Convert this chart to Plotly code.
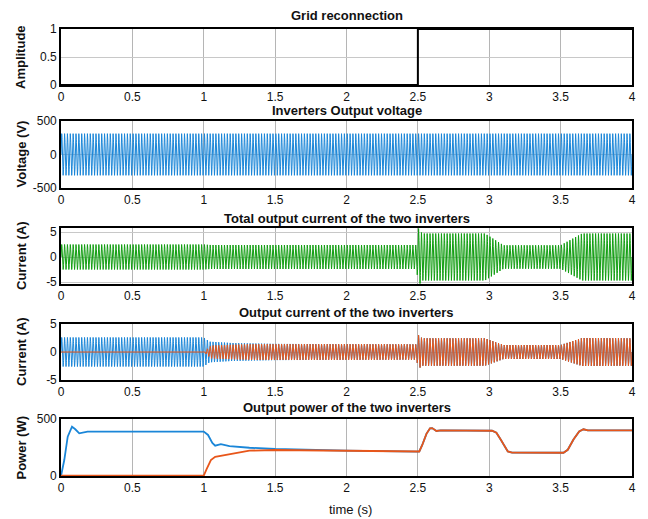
import numpy as np
import plotly.graph_objects as go

# ---------------------------------------------------------------- data
FREQ_HZ = 50.0          # grid frequency
T_END = 4.0             # simulation length (s)
SAMPLES_PER_CYCLE = 40

# Grid reconnection command (0 = islanded, 1 = connected)
grid_t = [0.0, 2.5, 2.5, 4.0]
grid_state = [0, 0, 1, 1]

# Inverter output voltage peak (V)
v_peak = 311.0

# Total output current envelope: knot times (s) and peak amplitude (A)
total_env_t = [0.0, 1.0, 1.05, 2.49, 2.505, 2.53, 2.97, 3.1, 3.5, 3.65, 4.0]
total_env_a = [2.5, 2.5, 2.4, 2.4, 5.7, 4.7, 4.7, 2.35, 2.35, 4.7, 4.7]

# Inverter 1 current envelope
inv1_env_t = [0.0, 1.0, 1.04, 1.2, 1.5, 2.0, 2.49, 2.505, 2.53, 2.97, 3.1, 3.5, 3.65, 4.0]
inv1_env_a = [2.6, 2.6, 1.85, 1.6, 1.45, 1.4, 1.37, 3.0, 2.45, 2.45, 1.25, 1.25, 2.5, 2.45]

# Inverter 2 current envelope
inv2_env_t = [0.0, 1.0, 1.05, 1.2, 1.35, 2.0, 2.49, 2.505, 2.53, 2.97, 3.1, 3.5, 3.65, 4.0]
inv2_env_a = [0.0, 0.0, 1.15, 1.3, 1.4, 1.4, 1.37, 3.0, 2.45, 2.45, 1.25, 1.25, 2.5, 2.45]

# Output power of inverter 1 (W)
p1_t = [0.0, 0.023, 0.047, 0.077, 0.1, 0.128, 0.186, 0.5, 1.0, 1.03, 1.06, 1.08,
        1.12, 1.18, 1.32, 1.5, 1.77, 2.0, 2.5, 2.51, 2.53, 2.56, 2.585, 2.6,
        2.63, 2.66, 3.02, 3.05, 3.08, 3.11, 3.13, 3.16, 3.52, 3.55, 3.59, 3.63,
        3.66, 3.69, 4.0]
p1_w = [0, 140, 345, 433, 410, 374, 389, 389, 389, 360, 290, 266,
        280, 262, 248, 237, 228, 222, 213, 215, 270, 370, 418, 420,
        395, 400, 397, 380, 320, 250, 215, 205, 204, 230, 320, 390,
        410, 400, 400]

# Output power of inverter 2 (W)
p2_t = [0.0, 1.0, 1.02, 1.05, 1.08, 1.11, 1.18, 1.32, 1.5, 2.0, 2.5, 2.51,
        2.53, 2.56, 2.585, 2.6, 2.63, 2.66, 3.02, 3.05, 3.08, 3.11, 3.13, 3.16,
        3.52, 3.55, 3.59, 3.63, 3.66, 3.69, 4.0]
p2_w = [3, 3, 60, 140, 168, 175, 193, 222, 228, 222, 213, 215,
        270, 370, 418, 420, 395, 400, 397, 380, 320, 250, 215, 205,
        204, 230, 320, 390, 410, 400, 400]

# ---------------------------------------------------------------- signals
t = np.arange(0.0, T_END + 1e-9, 1.0 / (FREQ_HZ * SAMPLES_PER_CYCLE))
carrier = np.sin(2 * np.pi * FREQ_HZ * t)
voltage = v_peak * carrier
i_total = np.interp(t, total_env_t, total_env_a) * carrier
i_inv1 = np.interp(t, inv1_env_t, inv1_env_a) * carrier
i_inv2 = np.interp(t, inv2_env_t, inv2_env_a) * carrier

# ---------------------------------------------------------------- styling
BLUE = "#1a86d8"
ORANGE = "#e8561a"
GREEN = "#129e12"
FONT = "Liberation Sans, Arial, sans-serif"
W, H = 648, 519

x_dom = [61 / W, 632 / W]
# (top px, bottom px) of each panel
rows_px = [(29, 85), (121, 188), (228, 284), (324, 380), (419, 476)]
y_doms = [[1 - b / H, 1 - a / H] for a, b in rows_px]

titles = ["Grid reconnection", "Inverters Output voltage",
          "Total output current of the two inverters",
          "Output current of the two inverters",
          "Output power of the two inverters"]
ylabels = ["Amplitude", "Voltage (V)", "Current (A)", "Current (A)", "Power (W)"]
y_ranges = [[0, 1], [-500, 500], [-5.4, 5.8], [-5, 5], [0, 500]]
y_ticks = [[0, 0.5, 1], [-500, 0, 500], [-5, 0, 5], [-5, 0, 5], [0, 500]]
title_y_px = [16, 111, 218, 312, 407]

x_ticks = [0, 0.5, 1, 1.5, 2, 2.5, 3, 3.5, 4]


def tick_text(v):
    # plain hyphen-minus, compact numbers
    return f"{v:g}"


fig = go.Figure()


def add(row, x, y, color, width):
    suffix = "" if row == 1 else str(row)
    fig.add_trace(go.Scatter(x=x, y=y, mode="lines",
                             line=dict(color=color, width=width),
                             xaxis="x" + suffix, yaxis="y" + suffix,
                             showlegend=False, hoverinfo="skip"))


add(1, grid_t, grid_state, "black", 2)
add(2, t, voltage, BLUE, 1)
add(3, t, i_total, GREEN, 1)
add(4, t, i_inv1, BLUE, 1)
add(4, t, i_inv2, ORANGE, 1)
add(5, p1_t, p1_w, BLUE, 1.8)
add(5, p2_t, p2_w, ORANGE, 1.8)

layout = dict(width=W, height=H, margin=dict(l=0, r=0, t=0, b=0),
              paper_bgcolor="white", plot_bgcolor="white",
              font=dict(family=FONT, size=12, color="#111"))

annotations = []
for i in range(5):
    suffix = "" if i == 0 else str(i + 1)
    layout["xaxis" + suffix] = dict(
        domain=x_dom, range=[0, 4], anchor="y" + suffix, automargin=False,
        tickvals=x_ticks, ticktext=[tick_text(v) for v in x_ticks],
        showgrid=True, gridcolor="#b5b5b5", gridwidth=1,
        showline=True, mirror=True, linecolor="black", linewidth=1.6,
        zeroline=False, ticks="", tickfont=dict(size=12, color="#111"))
    layout["yaxis" + suffix] = dict(
        domain=y_doms[i], range=y_ranges[i], anchor="x" + suffix, automargin=False,
        tickvals=y_ticks[i], ticktext=[tick_text(v) for v in y_ticks[i]],
        showgrid=True, gridcolor="#c8c8c8", gridwidth=1,
        showline=True, mirror=True, linecolor="black", linewidth=1.6,
        zeroline=False, ticks="", tickfont=dict(size=12, color="#111"))
    annotations.append(dict(
        text=titles[i], xref="paper", yref="paper",
        x=sum(x_dom) / 2, y=1 - title_y_px[i] / H, showarrow=False,
        xanchor="center", yanchor="middle",
        font=dict(family=FONT, size=13, color="#111", weight="bold")))
    annotations.append(dict(
        text=ylabels[i], xref="paper", yref="paper", textangle=-90,
        x=21 / W, y=sum(y_doms[i]) / 2, showarrow=False,
        xanchor="center", yanchor="middle",
        font=dict(family=FONT, size=13, color="#111", weight="bold")))

annotations.append(dict(
    text="time (s)", xref="paper", yref="paper", x=350 / W, y=1 - 509 / H,
    showarrow=False, xanchor="center", yanchor="middle",
    font=dict(family=FONT, size=13, color="#111")))

layout["annotations"] = annotations
fig.update_layout(**layout)
fig.write_html("out.html")
